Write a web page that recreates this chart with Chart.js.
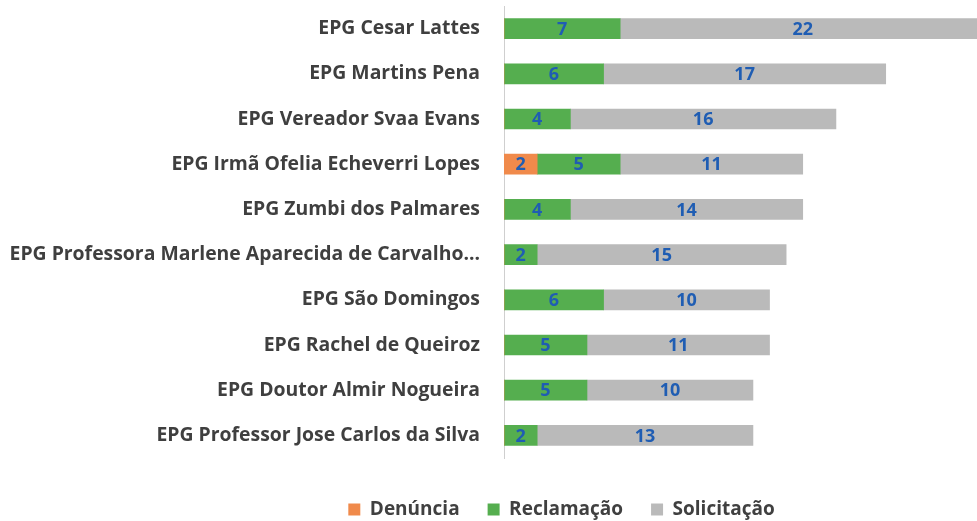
<!DOCTYPE html>
<html lang="pt">
<head>
  <meta charset="UTF-8" />
  <title>Manifestações por escola</title>
  <script src="https://cdn.jsdelivr.net/npm/chart.js"></script>
  <style>
    html, body { margin: 0; padding: 0; background: #fff; }
    #wrap { width: 977px; height: 521px; }
  </style>
</head>
<body>
  <div id="wrap"><canvas id="chart"></canvas></div>
  <script>
    const escolas = [
      'EPG Cesar Lattes',
      'EPG Martins Pena',
      'EPG Vereador Svaa Evans',
      'EPG Irmã Ofelia Echeverri Lopes',
      'EPG Zumbi dos Palmares',
      'EPG Professora Marlene Aparecida de Carvalho...',
      'EPG São Domingos',
      'EPG Rachel de Queiroz',
      'EPG Doutor Almir Nogueira',
      'EPG Professor Jose Carlos da Silva'
    ];
    const denuncia    = [0, 0, 0, 2, 0, 0, 0, 0, 0, 0];
    const reclamacao  = [7, 6, 4, 5, 4, 2, 6, 5, 5, 2];
    const solicitacao = [22, 17, 16, 11, 14, 15, 10, 11, 10, 13];

    // rótulos de valor no meio de cada segmento
    const valueLabels = {
      id: 'valueLabels',
      afterDatasetsDraw(chart) {
        const ctx = chart.ctx;
        ctx.save();
        ctx.font = 'bold 18px "Open Sans"';
        ctx.fillStyle = '#1f5db3';
        ctx.textAlign = 'center';
        ctx.textBaseline = 'middle';
        chart.data.datasets.forEach((ds, i) => {
          chart.getDatasetMeta(i).data.forEach((bar, j) => {
            const v = ds.data[j];
            if (!v) return;
            ctx.fillText(String(v), (bar.x + bar.base) / 2, bar.y + 1);
          });
        });
        ctx.restore();
      }
    };

    // a legenda fica um pouco deslocada para a direita e para baixo
    const moveLegend = {
      id: 'moveLegend',
      afterLayout(chart) {
        const l = chart.legend;
        l.left += 73; l.right += 73;
        l.top += 14; l.bottom += 14;
      }
    };

    new Chart(document.getElementById('chart'), {
      type: 'bar',
      data: {
        labels: escolas,
        datasets: [
          { label: 'Denúncia', data: denuncia, backgroundColor: '#f08a4b' },
          { label: 'Reclamação', data: reclamacao, backgroundColor: '#55ae4f' },
          { label: 'Solicitação', data: solicitacao, backgroundColor: '#bababa' }
        ]
      },
      options: {
        indexAxis: 'y',
        responsive: true,
        maintainAspectRatio: false,
        animation: false,
        barThickness: 20,
        layout: { padding: 0 },
        plugins: {
          tooltip: { enabled: false },
          legend: {
            position: 'bottom',
            labels: {
              boxWidth: 12,
              boxHeight: 12,
              padding: 28,
              color: '#404040',
              font: { family: 'Open Sans', size: 19, weight: 'bold' }
            }
          }
        },
        scales: {
          x: {
            stacked: true,
            display: false,
            min: 0,
            max: 28.5
          },
          y: {
            stacked: true,
            grid: { display: false, drawTicks: false },
            border: { display: true, color: '#cfcfcf', dash: [2, 3] },
            ticks: {
              padding: 24,
              color: '#3f3f3f',
              font: { family: 'Open Sans', size: 19.4, weight: 'bold' }
            },
            afterFit(scale) {
              scale.width = 504;
              scale.paddingTop = 6;
              scale.paddingBottom = 63;
            }
          }
        }
      },
      plugins: [valueLabels, moveLegend]
    });
  </script>
</body>
</html>
